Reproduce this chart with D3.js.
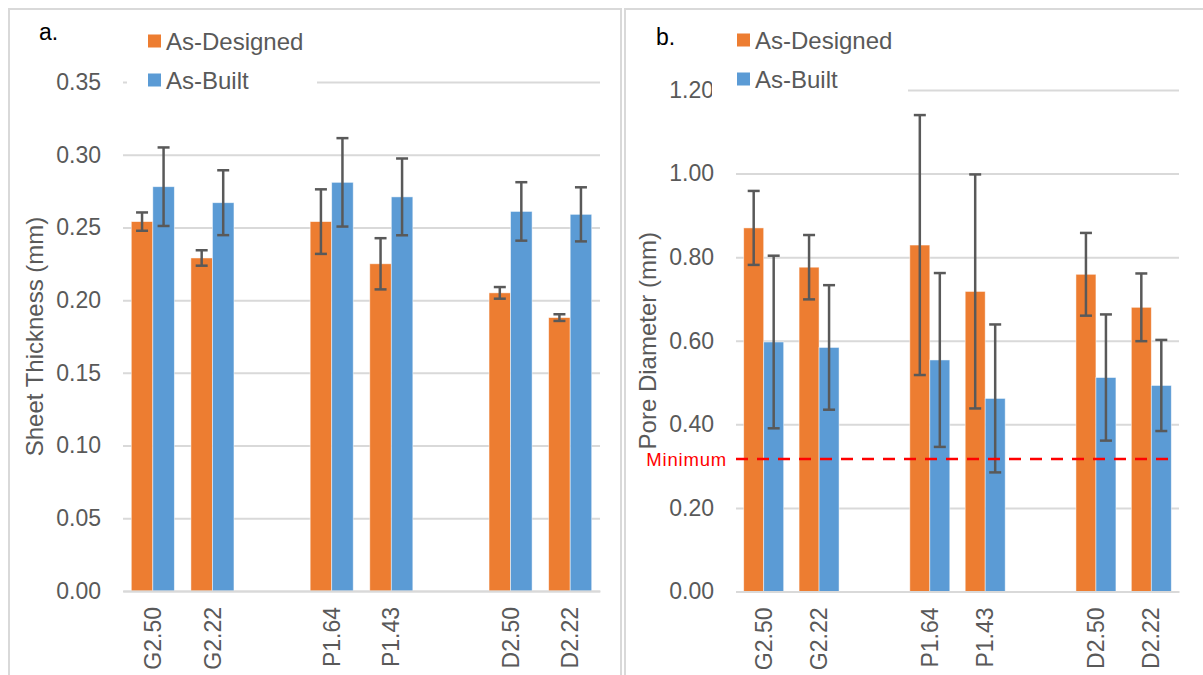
<!DOCTYPE html>
<html>
<head>
<meta charset="utf-8">
<script src="https://cdn.jsdelivr.net/npm/d3@7"></script>
<style>
  body { margin: 0; background: #fff; }
  text { font-family: "Liberation Sans", Arial, sans-serif; }
</style>
</head>
<body>
<div id="chart"></div>
<script>
// Categories (blank slots split the G, P and D groups)
const categories = ["G2.50", "G2.22", "", "P1.64", "P1.43", "", "D2.50", "D2.22"];
const seriesNames = ["As-Designed", "As-Built"];
const seriesColors = ["#ED7D31", "#5B9BD5"];

// a. Sheet thickness (mm)
const thicknessDesigned    = [0.254, 0.229, null, 0.254, 0.225, null, 0.205, 0.188];
const thicknessDesignedErr = [0.0063, 0.0053, null, 0.0222, 0.0176, null, 0.0040, 0.0023];
const thicknessBuilt       = [0.278, 0.267, null, 0.281, 0.271, null, 0.261, 0.259];
const thicknessBuiltErr    = [0.0270, 0.0223, null, 0.0304, 0.0264, null, 0.0201, 0.0186];
const thicknessTicks = [0, 0.05, 0.10, 0.15, 0.20, 0.25, 0.30, 0.35];

// b. Pore diameter (mm)
const poreDesigned    = [0.870, 0.776, null, 0.829, 0.718, null, 0.759, 0.680];
const poreDesignedErr = [0.0885, 0.077, null, 0.311, 0.280, null, 0.099, 0.081];
const poreBuilt       = [0.597, 0.584, null, 0.554, 0.462, null, 0.512, 0.493];
const poreBuiltErr    = [0.2065, 0.149, null, 0.208, 0.177, null, 0.151, 0.109];
const poreTicks = [0, 0.20, 0.40, 0.60, 0.80, 1.00, 1.20];
const poreMinimum = 0.317;

const textColor = "#595959";
const gridColor = "#d9d9d9";

const svg = d3.select("#chart")
    .append("svg")
    .attr("width", 1203)
    .attr("height", 675);

// Panel borders
svg.append("rect")
    .attr("x", 9).attr("y", 9)
    .attr("width", 612).attr("height", 700)
    .attr("fill", "none").attr("stroke", gridColor).attr("stroke-width", 2);
svg.append("rect")
    .attr("x", 625).attr("y", 9)
    .attr("width", 620).attr("height", 700)
    .attr("fill", "none").attr("stroke", gridColor).attr("stroke-width", 2);

function drawPanel(p) {
    const g = svg.append("g");

    const x = d3.scaleBand()
        .domain(d3.range(categories.length))
        .range([p.left, p.right])
        .padding(0);

    const xSub = d3.scaleBand()
        .domain([0, 1])
        .range([0, x.bandwidth()])
        .paddingInner(0)
        .paddingOuter(0.385);

    const y = d3.scaleLinear()
        .domain([0, p.ticks[p.ticks.length - 1]])
        .range([p.bottom, p.top]);

    // Gridlines
    g.append("g")
        .attr("transform", "translate(" + p.left + ",0)")
        .call(d3.axisLeft(y).tickValues(p.ticks).tickSize(-(p.right - p.left)).tickFormat(""))
        .call(a => a.select(".domain").remove())
        .selectAll("line")
        .attr("stroke", gridColor)
        .attr("stroke-width", 2);

    // Y tick labels
    g.append("g")
        .attr("transform", "translate(" + p.left + ",0)")
        .call(d3.axisLeft(y).tickValues(p.ticks).tickSize(0).tickPadding(22).tickFormat(d3.format(".2f")))
        .call(a => a.select(".domain").remove())
        .selectAll("text")
        .attr("fill", textColor)
        .style("font-size", "23px")
        .style("font-family", "'Liberation Sans', Arial, sans-serif");

    // Bars
    const series = [p.designed, p.built];
    const errors = [p.designedErr, p.builtErr];
    series.forEach((vals, s) => {
        const rows = vals.map((v, i) => ({ i: i, v: v, e: errors[s][i] })).filter(d => d.v !== null);

        g.selectAll(null)
            .data(rows)
            .enter()
            .append("rect")
            .attr("x", d => x(d.i) + xSub(s))
            .attr("y", d => y(d.v))
            .attr("width", xSub.bandwidth())
            .attr("height", d => y(0) - y(d.v))
            .attr("fill", seriesColors[s])
            .attr("stroke", "#fff")
            .attr("stroke-opacity", 0.6)
            .attr("stroke-width", 0.8);
    });

    // X axis
    const xAxis = g.append("g")
        .attr("transform", "translate(0," + p.bottom + ")")
        .call(d3.axisBottom(x).tickSize(0).tickFormat(i => categories[i]));
    xAxis.select(".domain").attr("stroke", gridColor).attr("stroke-width", 2);
    xAxis.selectAll("text")
        .attr("transform", "rotate(-90)")
        .attr("x", -16)
        .attr("y", 0)
        .attr("dy", "0.35em")
        .attr("fill", textColor)
        .style("text-anchor", "end")
        .style("font-size", "23px")
        .style("font-family", "'Liberation Sans', Arial, sans-serif");

    // Error bars
    series.forEach((vals, s) => {
        const rows = vals.map((v, i) => ({ i: i, v: v, e: errors[s][i] })).filter(d => d.v !== null);
        const cx = d => x(d.i) + xSub(s) + xSub.bandwidth() / 2;
        const eb = g.append("g")
            .attr("stroke", textColor)
            .attr("stroke-width", 2.5);
        eb.selectAll(null).data(rows).enter().append("line")
            .attr("x1", cx).attr("x2", cx)
            .attr("y1", d => y(d.v + d.e)).attr("y2", d => y(d.v - d.e));
        eb.selectAll(null).data(rows).enter().append("line")
            .attr("x1", d => cx(d) - 6).attr("x2", d => cx(d) + 6)
            .attr("y1", d => y(d.v + d.e)).attr("y2", d => y(d.v + d.e));
        eb.selectAll(null).data(rows).enter().append("line")
            .attr("x1", d => cx(d) - 6).attr("x2", d => cx(d) + 6)
            .attr("y1", d => y(d.v - d.e)).attr("y2", d => y(d.v - d.e));
    });

    // Minimum line (panel b only)
    if (p.minimum !== undefined) {
        g.append("line")
            .attr("x1", p.left).attr("x2", p.right - 5)
            .attr("y1", y(p.minimum)).attr("y2", y(p.minimum))
            .attr("stroke", "#ff0000")
            .attr("stroke-width", 2.5)
            .attr("stroke-dasharray", "12,9");
        g.append("text")
            .attr("x", p.left - 9)
            .attr("y", y(p.minimum))
            .attr("dy", "0.36em")
            .attr("text-anchor", "end")
            .attr("fill", "#ff0000")
            .style("font-size", "18.5px")
            .style("letter-spacing", "0.8px")
            .text("Minimum");
    }

    // Y axis title
    g.append("text")
        .attr("transform", "translate(" + p.titleX + "," + ((p.top + p.bottom) / 2) + ") rotate(-90)")
        .attr("text-anchor", "middle")
        .attr("dy", "0.35em")
        .attr("fill", textColor)
        .style("font-size", "24px")
        .text(p.title);

    // Legend (white box hides part of the top gridline)
    g.append("rect")
        .attr("x", p.legendBox[0]).attr("y", 18)
        .attr("width", p.legendBox[1] - p.legendBox[0]).attr("height", 84)
        .attr("fill", "#fff");
    seriesNames.forEach((name, s) => {
        g.append("rect")
            .attr("x", p.legendX).attr("y", p.legendY + s * 39 - 7)
            .attr("width", 13).attr("height", 13)
            .attr("fill", seriesColors[s]);
        g.append("text")
            .attr("x", p.legendX + 18).attr("y", p.legendY + s * 39)
            .attr("dy", "0.35em")
            .attr("fill", textColor)
            .style("font-size", "24px")
            .text(name);
    });

    // Panel letter
    g.append("text")
        .attr("x", p.letterX).attr("y", p.letterY)
        .attr("fill", "#000")
        .style("font-size", "23px")
        .text(p.letter);
}

drawPanel({
    left: 123, right: 600, top: 82, bottom: 591,
    ticks: thicknessTicks,
    designed: thicknessDesigned, designedErr: thicknessDesignedErr,
    built: thicknessBuilt, builtErr: thicknessBuiltErr,
    title: "Sheet Thickness (mm)", titleX: 35,
    legendBox: [127, 317], legendX: 148, legendY: 41.5,
    letter: "a.", letterX: 39, letterY: 40
});

drawPanel({
    left: 736, right: 1179, top: 90, bottom: 591.5,
    ticks: poreTicks,
    designed: poreDesigned, designedErr: poreDesignedErr,
    built: poreBuilt, builtErr: poreBuiltErr,
    minimum: poreMinimum,
    title: "Pore Diameter (mm)", titleX: 648,
    legendBox: [712, 908], legendX: 737, legendY: 40.5,
    letter: "b.", letterX: 656, letterY: 45
});
</script>
</body>
</html>
